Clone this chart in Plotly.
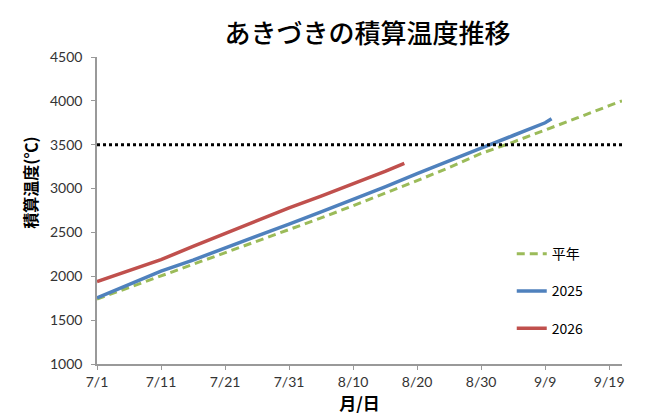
import pandas as pd
import plotly.graph_objects as go

# 月/日 (every 5 days) and accumulated temperature values
days_normal = ["7/1", "7/6", "7/11", "7/16", "7/21", "7/26", "7/31", "8/5", "8/10",
               "8/15", "8/20", "8/25", "8/30", "9/4", "9/9", "9/14", "9/19", "9/21"]
temp_normal = [1740, 1872, 2005, 2130, 2262, 2395, 2528, 2665, 2805,
               2945, 3090, 3240, 3400, 3530, 3665, 3805, 3945, 4000]

days_2025 = ["7/1", "7/6", "7/11", "7/16", "7/21", "7/26", "7/31", "8/5", "8/10",
             "8/15", "8/20", "8/25", "8/30", "9/4", "9/9", "9/10"]
temp_2025 = [1755, 1910, 2060, 2185, 2319, 2455, 2595, 2735, 2875,
             3020, 3170, 3320, 3460, 3605, 3750, 3795]

days_2026 = ["7/1", "7/6", "7/11", "7/16", "7/21", "7/26", "7/31", "8/5", "8/10",
             "8/15", "8/18"]
temp_2026 = [1940, 2060, 2190, 2340, 2490, 2640, 2780, 2915, 3050, 3195, 3287]

threshold = 3500

YEAR = "2026"


def to_dates(days):
    return pd.to_datetime([f"{YEAR}/{d}" for d in days], format="%Y/%m/%d")


series = [
    {"name": "平年", "x": days_normal, "y": temp_normal,
     "color": "#9BBB59", "dash": "8px,5px", "width": 3},
    {"name": "2025", "x": days_2025, "y": temp_2025,
     "color": "#4F81BD", "dash": "solid", "width": 3.5},
    {"name": "2026", "x": days_2026, "y": temp_2026,
     "color": "#C0504D", "dash": "solid", "width": 3.5},
]

fig = go.Figure()

for s in series:
    fig.add_trace(
        go.Scatter(
            x=to_dates(s["x"]),
            y=s["y"],
            mode="lines",
            name=s["name"],
            legendgroup=s["name"],
            line={"color": s["color"], "width": s["width"], "dash": s["dash"]},
        )
    )

fig.add_shape(
    type="line",
    xref="paper",
    x0=0,
    x1=1,
    y0=threshold,
    y1=threshold,
    line={"color": "black", "width": 3, "dash": "dot"},
)

# y axis title sits above the middle of the axis, as in the original
fig.add_annotation(
    text="積算温度(℃)",
    xref="paper",
    yref="paper",
    x=-0.128,
    y=0.59,
    xanchor="center",
    yanchor="middle",
    textangle=-90,
    showarrow=False,
    font={"family": "Noto Sans CJK JP", "size": 16, "color": "black", "weight": "bold"},
)

tick_font = {"family": "Lato", "size": 14, "color": "#333333"}

fig.update_xaxes(
    type="date",
    range=[f"{YEAR}-07-01", f"{YEAR}-09-21"],
    tick0=f"{YEAR}-07-01",
    dtick=10 * 86400000,
    tickformat="%-m/%-d",
    ticks="outside",
    ticklen=4,
    tickcolor="#999999",
    showline=True,
    linecolor="#999999",
    linewidth=1.5,
    showgrid=False,
    zeroline=False,
    automargin=False,
    tickfont=tick_font,
    title={"text": "月/日", "standoff": 7,
           "font": {"family": "Noto Sans CJK JP", "size": 17, "color": "black",
                    "weight": "bold"}},
)
fig.update_yaxes(
    range=[1000, 4500],
    dtick=500,
    ticks="outside",
    ticklen=4,
    tickcolor="#999999",
    showline=True,
    linecolor="#999999",
    linewidth=1.5,
    showgrid=False,
    zeroline=False,
    automargin=False,
    ticklabelstandoff=6,
    tickfont=tick_font,
)

fig.update_layout(
    width=660,
    height=420,
    margin={"l": 97, "r": 38, "t": 57, "b": 56},
    title={"text": "あきづきの積算温度推移", "x": 0.557, "xanchor": "center",
           "y": 0.92, "yanchor": "middle",
           "font": {"family": "Noto Sans CJK JP", "size": 26, "color": "black",
                    "weight": 500}},
    legend={"x": 0.79, "y": 0.41, "xanchor": "left", "yanchor": "top",
            "font": {"family": "Noto Sans CJK JP", "size": 14, "color": "black"},
            "tracegroupgap": 16, "bgcolor": "rgba(0,0,0,0)"},
    plot_bgcolor="white",
    paper_bgcolor="white",
)

fig.write_html(
    "out.html",
    config={"displayModeBar": False},
    post_script="document.body.style.margin='0';",
)
